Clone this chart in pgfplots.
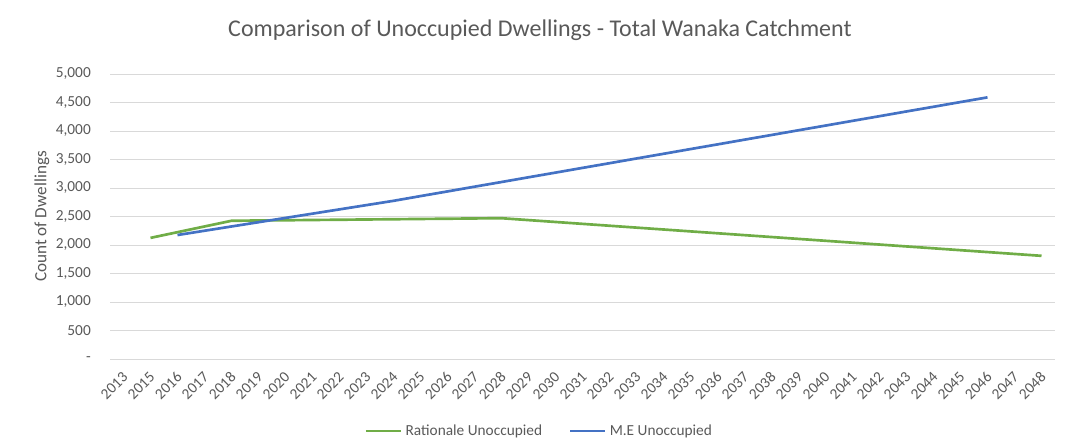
\documentclass[border=0pt]{standalone}
\usepackage{fontspec}
\setmainfont{Carlito}
\usepackage{pgfplots}
\pgfplotsset{compat=1.18}
\definecolor{txt}{HTML}{595959}
\definecolor{gridc}{HTML}{D9D9D9}
\definecolor{cgreen}{HTML}{70AD47}
\definecolor{cblue}{HTML}{4472C4}
\begin{document}
\begin{tikzpicture}
\useasboundingbox (0,0) rectangle (642pt,268.2pt);
\begin{axis}[
  at={(66pt,52.8pt)}, anchor=south west,
  scale only axis, width=567pt, height=171pt,
  xmin=-0.5, xmax=34.5, ymin=0, ymax=5000,
  xtick={0,...,34},
  xticklabels={2013,2015,2016,2017,2018,2019,2020,2021,2022,2023,2024,2025,2026,2027,2028,2029,2030,2031,2032,2033,2034,2035,2036,2037,2038,2039,2040,2041,2042,2043,2044,2045,2046,2047,2048},
  ytick={0,500,...,5000},
  yticklabels={-,500,{1,000},{1,500},{2,000},{2,500},{3,000},{3,500},{4,000},{4,500},{5,000}},
  /pgf/number format/assume math mode=true,
  axis line style={draw=none},
  major tick length=0pt,
  ymajorgrids, grid style={draw=gridc, line width=0.6pt},
  tick label style={font=\fontsize{9.2pt}{11pt}\selectfont, text=txt},
  xticklabel style={rotate=45, anchor=east, xshift=-4.8pt, yshift=-7.4pt, inner sep=1pt},
  yticklabel style={anchor=east, xshift=-8pt},
  ylabel={Count of Dwellings},
  ylabel style={font=\fontsize{10.3pt}{12pt}\selectfont, text=txt, at={(axis description cs:-0.072,0.5)}, anchor=center},
  title={Comparison of Unoccupied Dwellings - Total Wanaka Catchment},
  title style={font=\fontsize{14.4pt}{17pt}\selectfont, text=txt, at={(axis description cs:0.455,1.119)}, anchor=center},
  legend style={at={(axis description cs:0.455,-0.2526)}, anchor=center, draw=none, fill=none,
    font=\fontsize{9.2pt}{11pt}\selectfont, text=txt, legend columns=2,
    /tikz/every even column/.append style={column sep=14pt}},
  legend image code/.code={\draw[#1] (0pt,0pt) -- (21pt,0pt);},
  legend cell align=left,
]
\addplot[cgreen, line width=1.6pt] coordinates {
(1,2125)(2,2225)(3,2325)(4,2425)(5,2430)(6,2434)(7,2439)(8,2443)(9,2448)(10,2452)(11,2457)(12,2461)(13,2466)(14,2470)(15,2437)(16,2404)(17,2371)(18,2338)(19,2305)(20,2272)(21,2239)(22,2206)(23,2173)(24,2140)(25,2107)(26,2074)(27,2041)(28,2008)(29,1975)(30,1942)(31,1909)(32,1876)(33,1843)(34,1810)};
\addlegendentry{Rationale Unoccupied}
\addplot[cblue, line width=1.6pt] coordinates {
(2,2175)(3,2250)(4,2325)(5,2400)(6,2475)(7,2550)(8,2625)(9,2700)(10,2775)(11,2858)(12,2940)(13,3023)(14,3105)(15,3188)(16,3270)(17,3353)(18,3435)(19,3518)(20,3600)(21,3683)(22,3765)(23,3848)(24,3930)(25,4013)(26,4095)(27,4178)(28,4260)(29,4343)(30,4425)(31,4508)(32,4590)};
\addlegendentry{M.E Unoccupied}
\end{axis}
\end{tikzpicture}
\end{document}
